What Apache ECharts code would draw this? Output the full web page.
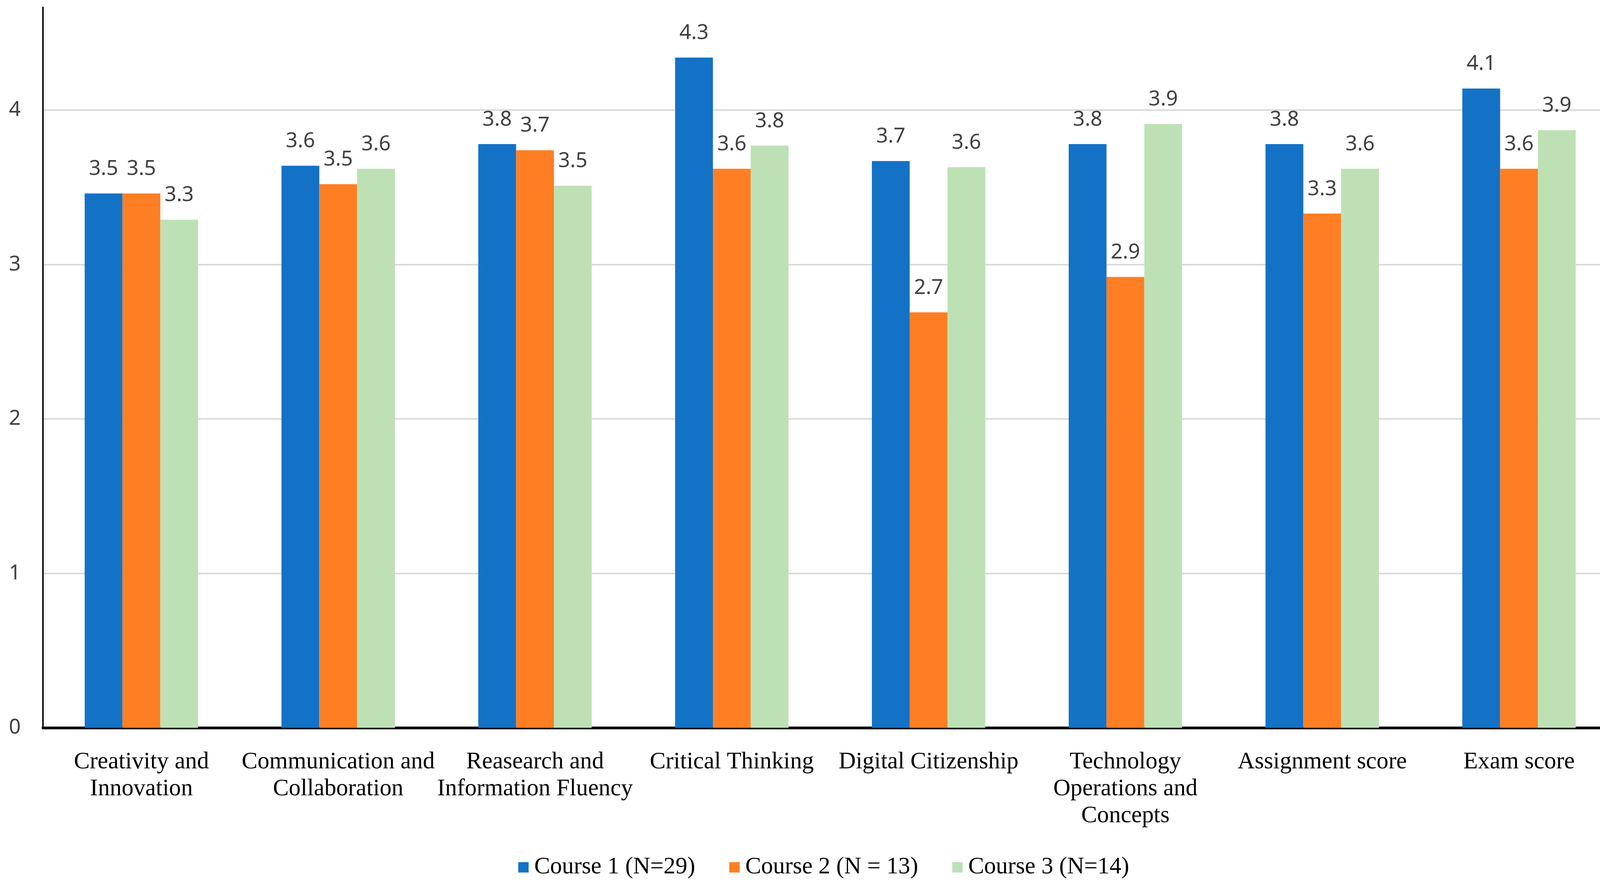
<!DOCTYPE html>
<html>
<head>
<meta charset="utf-8">
<script src="https://cdn.jsdelivr.net/npm/echarts@6/dist/echarts.min.js"></script>
<style>
html, body { margin: 0; padding: 0; background: #fff; overflow: hidden; }
#main { width: 100vw; height: 100vh; }
</style>
</head>
<body>
<div id="main"></div>
<script>
var categories = [
    'Creativity and\nInnovation',
    'Communication and\nCollaboration',
    'Reasearch and\nInformation Fluency',
    'Critical Thinking',
    'Digital Citizenship',
    'Technology\nOperations and\nConcepts',
    'Assignment score',
    'Exam score'
];
var seriesNames = ['Course 1 (N=29)', 'Course 2 (N = 13)', 'Course 3 (N=14)'];
var course1 = [3.46, 3.64, 3.78, 4.34, 3.67, 3.78, 3.78, 4.14];
var course2 = [3.46, 3.52, 3.74, 3.62, 2.69, 2.92, 3.33, 3.62];
var course3 = [3.29, 3.62, 3.51, 3.77, 3.63, 3.91, 3.62, 3.87];
var yTicks = [0, 1, 2, 3, 4];

var colors = ['#1372C6', '#FE7F23', '#BDE1B5'];

var myChart = echarts.init(document.getElementById('main'));

// layout was measured on a 4317 x 2277 picture, scale it to the real box
var sx = myChart.getWidth() / 4317;
var sy = myChart.getHeight() / 2277;
var fs = Math.min(sx, sy);

function barSeries(name, data, color) {
    return {
        name: name,
        type: 'bar',
        data: data,
        barWidth: 102 * sx,
        barGap: '0%',
        itemStyle: { color: color },
        label: {
            show: true,
            position: 'top',
            distance: 36 * sy,
            fontFamily: 'Noto Sans',
            fontSize: 56 * fs,
            color: '#404040',
            formatter: function (p) { return p.value.toFixed(1); }
        }
    };
}

var option = {
    backgroundColor: '#ffffff',
    animation: false,
    color: colors,
    legend: {
        data: seriesNames,
        left: 1393 * sx,
        top: 2186 * sy,
        itemWidth: 28 * fs,
        itemHeight: 28 * fs,
        itemGap: 92 * sx,
        icon: 'rect',
        textStyle: {
            fontFamily: 'Liberation Serif',
            fontSize: 64 * fs,
            color: '#000',
            padding: [0, 0, 0, 10 * sx]
        }
    },
    grid: {
        left: 116 * sx,
        top: 19 * sy,
        width: 4248 * sx,
        height: 1845 * sy,
        containLabel: false,
        outerBoundsMode: 'none'
    },
    xAxis: [
        {
            type: 'category',
            data: categories,
            axisTick: { show: false },
            axisLine: { show: true, lineStyle: { color: '#000', width: 7 * sy } },
            axisLabel: {
                interval: 0,
                margin: 54 * sy,
                fontFamily: 'Liberation Serif',
                fontSize: 64 * fs,
                lineHeight: 69 * sy,
                color: '#000'
            }
        }
    ],
    yAxis: [
        {
            type: 'value',
            min: 0,
            max: 4.665,
            interval: 1,
            axisLine: { show: true, lineStyle: { color: '#000', width: 4 * sx } },
            axisTick: { show: false },
            splitLine: {
                show: true,
                showMinLine: false,
                showMaxLine: false,
                lineStyle: { color: '#D9D9D9', width: 4 * sy }
            },
            axisLabel: {
                margin: 60 * sx,
                showMaxLabel: false,
                fontFamily: 'Noto Sans',
                fontSize: 56 * fs,
                color: '#404040',
                formatter: function (v) {
                    return yTicks.indexOf(v) >= 0 ? String(v) : '';
                }
            }
        }
    ],
    series: [
        barSeries(seriesNames[0], course1, colors[0]),
        barSeries(seriesNames[1], course2, colors[1]),
        barSeries(seriesNames[2], course3, colors[2])
    ]
};

myChart.setOption(option);
</script>
</body>
</html>
